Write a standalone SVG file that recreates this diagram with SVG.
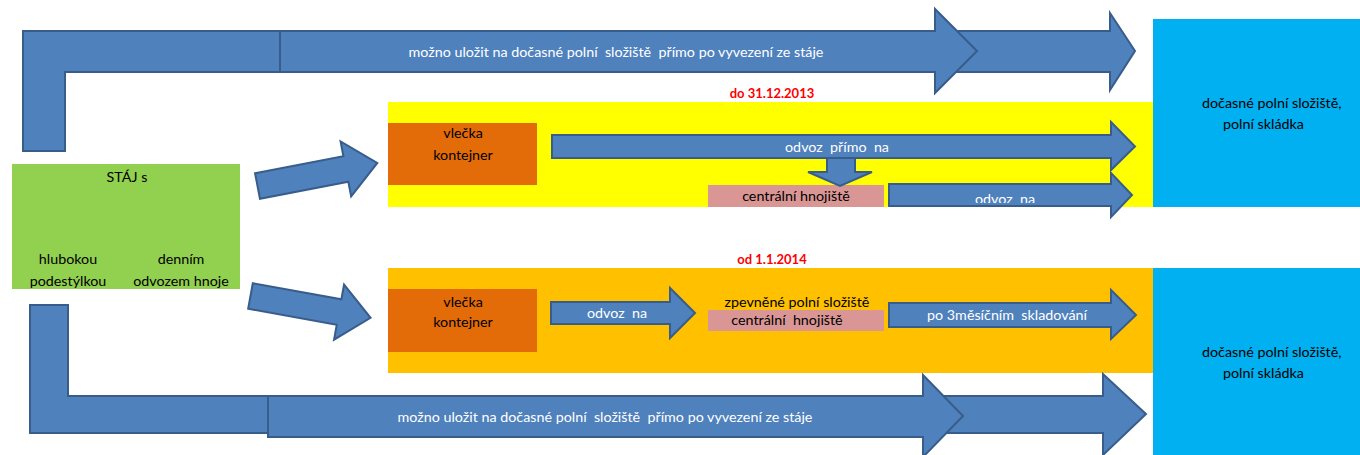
<svg xmlns="http://www.w3.org/2000/svg" width="1360" height="455" viewBox="0 0 1360 455">
<style>
text{white-space:pre}
.arr{fill:#4F81BD;stroke:#385D8A;stroke-width:2;stroke-linejoin:miter}
.t{font-family:Lato,"Liberation Sans",sans-serif;font-size:14.3px;fill:#000}
.w{font-family:Lato,"Liberation Sans",sans-serif;font-size:14.3px;fill:#fff}
.r{font-family:Lato,"Liberation Sans",sans-serif;font-size:13px;font-weight:bold;fill:#FF0000}
</style>
<defs>
<clipPath id="clipOdvoz"><rect x="889" y="184" width="230" height="19"/></clipPath>
</defs>
<rect width="1360" height="455" fill="#fff"/>
<g id="period1">
<rect x="388" y="102" width="765" height="105" fill="#FFFF00"/>
<text class="r" x="772" y="98" text-anchor="middle">do 31.12.2013</text>
</g>
<g id="period2">
<rect x="388" y="268" width="765" height="105" fill="#FFC000"/>
<text class="r" x="772" y="264" text-anchor="middle">od 1.1.2014</text>
</g>
<g id="field-top">
<rect x="1153" y="19" width="207" height="188" fill="#00B0F0"/>
<text class="t" x="1202" y="108">dočasné polní složiště,</text>
<text class="t" x="1223" y="129">polní skládka</text>
</g>
<g id="field-bottom">
<rect x="1153" y="268" width="207" height="187" fill="#00B0F0"/>
<text class="t" x="1202" y="357">dočasné polní složiště,</text>
<text class="t" x="1223" y="378">polní skládka</text>
</g>
<g id="staj">
<rect x="12" y="164" width="228" height="125" fill="#92D050"/>
<text class="t" x="127" y="182" text-anchor="middle">STÁJ s</text>
<text class="t" x="68" y="264" text-anchor="middle">hlubokou</text>
<text class="t" x="68" y="286" text-anchor="middle">podestýlkou</text>
<text class="t" x="181" y="264" text-anchor="middle">denním</text>
<text class="t" x="181" y="286" text-anchor="middle">odvozem hnoje</text>
</g>
<g id="vlecka1">
<rect x="388" y="123" width="149" height="62" fill="#E36C09"/>
<text class="t" x="463" y="138" text-anchor="middle">vlečka</text>
<text class="t" x="463" y="160" text-anchor="middle">kontejner</text>
</g>
<g id="vlecka2">
<rect x="388" y="289" width="149" height="63" fill="#E36C09"/>
<text class="t" x="463" y="307" text-anchor="middle">vlečka</text>
<text class="t" x="463" y="327" text-anchor="middle">kontejner</text>
</g>
<g id="hnojiste1">
<rect x="708" y="185" width="176" height="22" fill="#D99694"/>
<text class="t" x="796" y="201" text-anchor="middle">centrální hnojiště</text>
</g>
<g id="hnojiste2">
<text class="t" x="797" y="307" text-anchor="middle">zpevněné polní složiště</text>
<rect x="708" y="310" width="176" height="21" fill="#D99694"/>
<text class="t" x="787" y="325" text-anchor="middle">centrální  hnojiště</text>
</g>
<g id="connectors">
<polygon class="arr" points="23,151 23,31 1110,31 1110,13 1135,51 1110,90 1110,72 65,72 65,151"/>
<polygon class="arr" points="280,31 935,31 935,9 977,51 935,93 935,72 280,72"/>
<text class="w" x="616" y="57" text-anchor="middle">možno uložit na dočasné polní  složiště  přímo po vyvezení ze stáje</text>
<polygon class="arr" points="30,305 68,305 68,396 1103,396 1103,374 1146,414 1103,455 1103,433 30,433"/>
<polygon class="arr" points="268,396 923,396 923,375 963,416 923,457 923,437 268,437"/>
<text class="w" x="605" y="422" text-anchor="middle">možno uložit na dočasné polní  složiště  přímo po vyvezení ze stáje</text>
<polygon class="arr" transform="translate(257.5,186) rotate(-10.9)" points="0,-13 90,-13 90,-28 122,0 90,28 90,13 0,13"/>
<polygon class="arr" transform="translate(250.5,296) rotate(10.3)" points="0,-13 90,-13 90,-28 122,0 90,28 90,13 0,13"/>
<polygon class="arr" points="827,155 855,155 855,172 872,172 840,186 808,172 827,172"/>
<polygon class="arr" points="552,135 1111,135 1111,122 1135,146.5 1111,170 1111,158 552,158"/>
<text class="w" x="837" y="152" text-anchor="middle">odvoz  přímo  na</text>
<polygon class="arr" points="889,184 1111,184 1111,173 1132,195 1111,217 1111,206 889,206"/>
<text class="w" x="1005" y="204" text-anchor="middle" clip-path="url(#clipOdvoz)">odvoz  na</text>
<polygon class="arr" points="551,302 670,302 670,288 695,313 670,338 670,324 551,324"/>
<text class="w" x="617" y="318" text-anchor="middle">odvoz  na</text>
<polygon class="arr" points="889,303 1111,303 1111,290 1136,315 1111,339 1111,327 889,327"/>
<text class="w" x="1007" y="320" text-anchor="middle">po 3měsíčním  skladování</text>
</g>
</svg>
